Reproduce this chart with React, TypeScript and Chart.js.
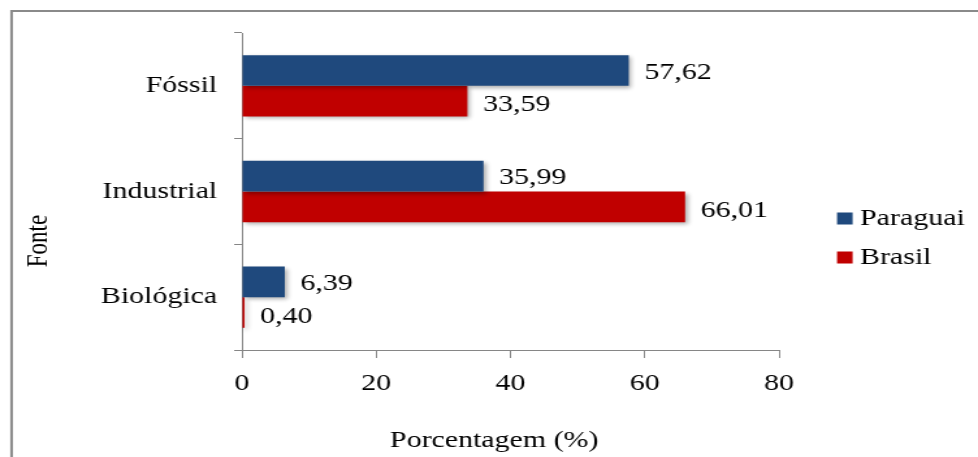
import { useEffect, useRef } from 'react';
import { Chart, registerables } from 'chart.js';

Chart.register(...registerables);

// Data
const categories = ['Fóssil', 'Industrial', 'Biológica'];
const seriesNames = ['Paraguai', 'Brasil'];
const paraguaiValues = [57.62, 35.99, 6.39];
const brasilValues = [33.59, 66.01, 0.4];
const xMin = 0;
const xMax = 80;
const xStep = 20;
const xTitle = 'Porcentagem (%)';
const yTitle = 'Fonte';

// Styling
const BLUE = '#1F497D';
const RED = '#C00000';
const AXIS = '#868686';
const FRAME = '#8a8a8a';
const TEXT = '#000000';
const FAMILY = "'Liberation Serif', 'Times New Roman', serif";
const FONT_SIZE = 23;

// The drawing surface is rendered narrower and stretched horizontally on screen.
const OUT_W = 978;
const OUT_H = 457;
const IN_W = 752;

const fmt = (v: number) => v.toFixed(2).replace('.', ',');

const barShadow = {
  id: 'barShadow',
  beforeDatasetsDraw(chart: any) {
    const ctx = chart.ctx;
    ctx.save();
    ctx.shadowColor = 'rgba(0,0,0,0.32)';
    ctx.shadowBlur = 4;
    ctx.shadowOffsetX = 2;
    ctx.shadowOffsetY = 2;
  },
  afterDatasetsDraw(chart: any) {
    chart.ctx.restore();
  },
};

const decor = {
  id: 'decor',
  afterDraw(chart: any) {
    const ctx = chart.ctx;
    ctx.save();

    // outer frame (top and left edges)
    ctx.strokeStyle = FRAME;
    ctx.lineWidth = 2;
    ctx.beginPath();
    ctx.moveTo(8.9, OUT_H);
    ctx.lineTo(8.9, 11);
    ctx.lineTo(IN_W, 11);
    ctx.stroke();

    ctx.font = `${FONT_SIZE}px ${FAMILY}`;
    ctx.fillStyle = TEXT;

    // value labels beside each bar
    ctx.textAlign = 'left';
    ctx.textBaseline = 'middle';
    chart.data.datasets.forEach((ds: any, di: number) => {
      const meta = chart.getDatasetMeta(di);
      meta.data.forEach((el: any, i: number) => {
        const dy = di === 0 ? 2 : 4;
        ctx.fillText(fmt(ds.data[i]), el.x + 12, el.y + dy);
      });
    });

    // legend
    const legendX = 643.6;
    const legendRows = [219, 258];
    chart.data.datasets.forEach((ds: any, di: number) => {
      const cy = legendRows[di];
      ctx.fillStyle = ds.backgroundColor;
      ctx.fillRect(legendX, cy - 6.5, 12, 12);
      ctx.fillStyle = TEXT;
      ctx.fillText(ds.label, legendX + 17.7, cy);
    });

    // axis titles
    ctx.textAlign = 'center';
    ctx.fillText(xTitle, 380, 441);
    ctx.translate(29.6, 241);
    ctx.rotate(-Math.PI / 2);
    ctx.fillText(yTitle, 0, 0);

    ctx.restore();
  },
};

export default function App() {
  const canvasRef = useRef<HTMLCanvasElement | null>(null);

  useEffect(() => {
    const canvas = canvasRef.current;
    if (!canvas) return;
    const font = { family: FAMILY, size: FONT_SIZE };
    const chart = new Chart(canvas, {
      type: 'bar',
      data: {
        labels: categories,
        datasets: [
          {
            label: seriesNames[0],
            data: paraguaiValues,
            backgroundColor: BLUE,
            categoryPercentage: 0.58,
            barPercentage: 1,
          },
          {
            label: seriesNames[1],
            data: brasilValues,
            backgroundColor: RED,
            categoryPercentage: 0.58,
            barPercentage: 1,
          },
        ],
      },
      options: {
        indexAxis: 'y',
        responsive: false,
        maintainAspectRatio: false,
        animation: false,
        devicePixelRatio: 1,
        layout: { padding: { top: 33, right: 153, bottom: 0, left: 0 } },
        plugins: {
          legend: { display: false },
          tooltip: { enabled: false },
          title: { display: false },
        },
        scales: {
          x: {
            type: 'linear',
            min: xMin,
            max: xMax,
            ticks: { stepSize: xStep, padding: 12, font, color: TEXT },
            grid: {
              display: true,
              drawOnChartArea: false,
              drawTicks: true,
              tickLength: 8,
              color: AXIS,
            },
            border: { display: true, color: AXIS, width: 1 },
            afterFit: (s: any) => {
              s.height = 107;
            },
          },
          y: {
            type: 'category',
            ticks: { padding: 13, font, color: TEXT },
            grid: {
              display: true,
              drawOnChartArea: false,
              drawTicks: true,
              tickLength: 6,
              color: AXIS,
              offset: true,
            },
            border: { display: true, color: AXIS, width: 1 },
            afterFit: (s: any) => {
              s.width = 186;
            },
          },
        },
      },
      plugins: [barShadow, decor],
    } as any);
    return () => chart.destroy();
  }, []);

  return (
    <div
      style={{
        position: 'absolute',
        left: 0,
        top: 0,
        width: OUT_W,
        height: OUT_H,
        background: '#ffffff',
        overflow: 'hidden',
      }}
    >
      <canvas
        ref={canvasRef}
        width={IN_W}
        height={OUT_H}
        style={{ display: 'block', width: `${OUT_W}px`, height: `${OUT_H}px` }}
      />
    </div>
  );
}
